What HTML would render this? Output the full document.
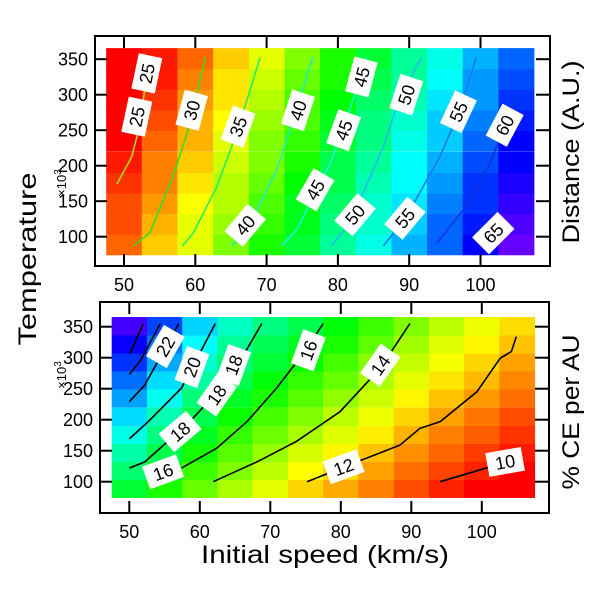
<!DOCTYPE html>
<html><head><meta charset="utf-8"><style>
html,body{margin:0;padding:0;background:#fff;}
svg{display:block;font-family:"Liberation Sans",sans-serif;}
</style></head><body>
<svg id="chart" width="600" height="596" viewBox="0 0 600 596">
<g id="top"></g>
<g id="bot"></g>
<text x="36" y="259" font-size="25" text-anchor="middle" textLength="173" lengthAdjust="spacingAndGlyphs" transform="rotate(-90 36 259)">Temperature</text>
<text x="66" y="183" font-size="13" text-anchor="middle" transform="rotate(-90 66 183)">×10<tspan dy="-5" font-size="10">3</tspan></text>
<text x="66" y="375" font-size="13" text-anchor="middle" transform="rotate(-90 66 375)">×10<tspan dy="-5" font-size="10">3</tspan></text>
<text x="579" y="152" font-size="24" text-anchor="middle" textLength="183" lengthAdjust="spacingAndGlyphs" transform="rotate(-90 579 152)">Distance (A.U.)</text>
<text x="579" y="412" font-size="24" text-anchor="middle" textLength="155" lengthAdjust="spacingAndGlyphs" transform="rotate(-90 579 412)">% CE per AU</text>
<text x="325" y="563" font-size="25" text-anchor="middle" textLength="248" lengthAdjust="spacingAndGlyphs">Initial speed (km/s)</text>
</svg>
<script>
const speeds=[50,55,60,65,70,75,80,85,90,95,100,105];
const temps=[89,118,147,176,205,235,264,293,322,351];
const xTicks=[50,60,70,80,90,100];
const yTicks=[100,150,200,250,300,350];
const distGrid=[
[29,33,36,40,44,47,51,54,58,61,65,69],
[28,32,36,39,43,46,50,53,57,61,64,68],
[28,31,35,38,42,46,49,53,56,60,63,67],
[27,30,34,38,41,45,48,52,55,59,63,66],
[26,30,33,37,40,44,48,51,55,58,62,65],
[25,29,32,36,40,43,47,50,54,57,61,65],
[25,28,32,35,39,42,46,50,53,57,60,64],
[24,27,31,34,38,42,45,49,52,56,59,63],
[23,26,30,34,37,41,44,48,51,55,59,62],
[22,26,29,33,36,40,44,47,51,54,58,61]];
const ceGrid=[
[16.1,15.2,14.3,13.5,12.8,12.0,11.5,11.0,10.4,9.9,9.5,9.1],
[16.8,15.8,14.8,14.0,13.3,12.5,12.0,11.4,10.8,10.3,9.9,9.4],
[17.5,16.4,15.3,14.5,13.7,13.0,12.4,11.8,11.2,10.7,10.2,9.8],
[18.2,17.0,15.9,14.9,14.2,13.5,12.9,12.3,11.6,11.0,10.6,10.1],
[18.9,17.6,16.4,15.4,14.7,14.0,13.3,12.7,12.0,11.4,10.9,10.4],
[19.6,18.3,16.9,15.9,15.2,14.5,13.8,13.1,12.4,11.8,11.3,10.8],
[20.2,18.9,17.4,16.4,15.6,14.9,14.3,13.5,12.8,12.2,11.7,11.1],
[20.9,19.5,17.9,16.9,16.1,15.4,14.7,13.9,13.2,12.6,12.0,11.4],
[21.6,20.1,18.5,17.3,16.5,15.9,15.2,14.4,13.6,12.9,12.4,11.8],
[22.3,20.7,19.0,17.8,17.0,16.4,15.6,14.8,14.0,13.3,12.7,12.1]];
const distLevels=[25,30,35,40,45,50,55,60];
const distLines=[
[[49.0,174],[51.1,213],[52.3,260],[52.9,307],[53.3,345]],
[[51.3,87],[53.6,105],[56.9,185],[59.3,260],[61.4,353]],
[[58.2,87],[59.7,105],[63,170],[65.8,246],[69.1,353]],
[[65.1,87],[67.2,109],[71.4,194],[73.7,264],[76.5,353]],
[[72.1,87],[74.2,109],[78.9,203],[81.2,264],[84,353]],
[[79.1,87],[81.7,119],[86.4,227],[88.7,297],[91.8,353]],
[[86.4,87],[89.6,128],[94.3,213],[97.1,278],[99.4,353]],
[[93.9,91],[97.6,138],[101.3,203],[105,297]]];
const distLineColors=["#a8d820","#33dd22","#22ee66","#22eebb","#22eedd","#22bbee","#2277ee","#1133dd"];
const distLabels=[["25",53.2,330,-78],["25",51.8,269,-78],["30",59.5,278,-75],["35",66,255,-70],["40",74.4,278,-72],["40",67,116,-50],["45",83.3,325,-75],["45",80.8,250,-70],["45",76.8,166,-60],["50",89.6,300,-72],["50",82.4,131,-50],["55",96.9,276,-65],["55",89.4,126,-50],["60",103.4,257,-62],["65",101.8,105,-45]];
const ceLines=[
[[50.1,307],[52,355]],
[[50,273],[51.5,294],[54.4,355]],
[[50,229],[52.2,256],[57,355]],
[[50,169],[52.7,197],[57.4,251],[62.2,355]],
[[50,122],[52.2,132],[58.6,197],[64.3,267],[68.8,355]],
[[57.4,122],[62.4,154],[66.7,197],[70.9,251],[74.7,307],[77.5,355]],
[[61.9,100],[68.1,132],[73.7,165],[79.9,213],[85.6,283],[89.8,355]],
[[75.2,100],[82.3,132],[88.4,159],[91.2,186],[94.1,197],[99.3,245],[102.6,299],[104.2,310],[104.9,334]],
[[94.1,100],[101.2,124]]];
const ceLabels=[["22",55.1,318,-60],["20",58.9,285,-70],["18",64.8,288,-70],["18",62.4,240,-55],["18",57.2,181,-40],["16",54.8,116,-20],["16",75.4,312,-70],["14",85.6,288,-55],["12",80.4,124,-20],["10",103.3,132,-10]];

const NS="http://www.w3.org/2000/svg";
function mk(parent,tag,attrs){const e=document.createElementNS(NS,tag);for(const k in attrs)e.setAttribute(k,attrs[k]);parent.appendChild(e);return e;}
function distHue(v){return Math.max(0,Math.min(275,(v-25)*6));}
function ceHue(v){return Math.max(0,Math.min(275,(v-9.5)*20));}

function panel(g,cfg){
  const X=s=>cfg.x0+(s-50)*cfg.kx, Y=t=>cfg.y0-(t-100)*cfg.ky;
  const half=14.6;
  cfg.grid.forEach((row,i)=>row.forEach((v,j)=>{
    const x1=X(speeds[j]-2.5),x2=X(speeds[j]+2.5),y1=Y(temps[i]+half),y2=Y(temps[i]-half);
    const r=mk(g,'rect',{x:x1.toFixed(2),y:y1.toFixed(2),width:(x2-x1+0.4).toFixed(2),height:(y2-y1+0.4).toFixed(2),fill:'hsl('+cfg.hue(v).toFixed(1)+',100%,50%)'});
    
    
  }));
  cfg.lines.forEach((pts,i)=>{
    const p=mk(g,'polyline',{points:pts.map(q=>X(q[0]).toFixed(1)+','+Y(q[1]).toFixed(1)).join(' '),fill:'none',stroke:cfg.lineColor(i),'stroke-width':1.6});
    
    
  });
  cfg.labels.forEach(l=>{
    const cx=X(l[1]),cy=Y(l[2]);
    const lg=mk(g,'g',{transform:'translate('+cx.toFixed(1)+','+cy.toFixed(1)+') rotate('+l[3]+')'});
    
    
    mk(lg,'rect',{x:-18,y:-12,width:36,height:24,fill:'#fff'});
    const t=mk(lg,'text',{x:0,y:6.5,'font-size':18,'text-anchor':'middle',fill:'#000'});t.textContent=l[0];
  });
  const fr=mk(g,'rect',{x:cfg.L,y:cfg.T,width:cfg.R-cfg.L,height:cfg.B-cfg.T,fill:'none',stroke:'#000','stroke-width':2});
  
  
  xTicks.forEach(s=>{
    const x=X(s);
    mk(g,'line',{x1:x,x2:x,y1:cfg.T,y2:cfg.T+12,stroke:'#000','stroke-width':2});
    mk(g,'line',{x1:x,x2:x,y1:cfg.B,y2:cfg.B-12,stroke:'#000','stroke-width':2});
    const t=mk(g,'text',{x:x,y:cfg.B+25,'font-size':18,'text-anchor':'middle'});t.textContent=s;
    
    
  });
  yTicks.forEach(v=>{
    const y=Y(v);
    mk(g,'line',{x1:cfg.L,x2:cfg.L+12,y1:y,y2:y,stroke:'#000','stroke-width':2});
    mk(g,'line',{x1:cfg.R,x2:cfg.R-14,y1:y,y2:y,stroke:'#000','stroke-width':2});
    const t=mk(g,'text',{x:cfg.L-7,y:y+6.5,'font-size':18,'text-anchor':'end'});t.textContent=v;
    
    
  });
}
panel(document.getElementById('top'),{x0:124,kx:7.13,y0:236.7,ky:0.71,L:95,R:550,T:36,B:266,grid:distGrid,hue:distHue,lines:distLines,lineColor:i=>distLineColors[i],labels:distLabels});
panel(document.getElementById('bot'),{x0:129.3,kx:7.05,y0:481.7,ky:0.62,L:100,R:549,T:302,B:513,grid:ceGrid,hue:ceHue,lines:ceLines,lineColor:()=>'#000',labels:ceLabels});
</script>
</body></html>
